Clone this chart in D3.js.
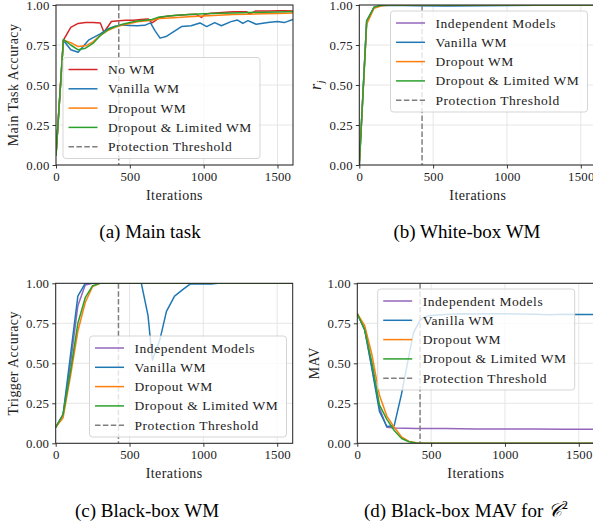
<!DOCTYPE html>
<html>
<head>
<meta charset="utf-8">
<script src="https://cdn.jsdelivr.net/npm/d3@7"></script>
<style>
  body { margin: 0; background: #fff; }
  svg { display: block; }
  svg text { font-family: "Liberation Serif", serif; }
</style>
</head>
<body>
<svg id="svg" width="593" height="522"></svg>
<script>
// ---- data (iteration, value) ----
const xTicks = [0, 500, 1000, 1500];
const xTickLabels = ["0", "500", "1000", "1500"];
const yTicks = [0, 0.25, 0.5, 0.75, 1];
const yTickLabels = ["0.00", "0.25", "0.50", "0.75", "1.00"];
const threshold = 425;

// (a) main task accuracy
const mainNoWM = [[0,0.06],[50,0.78],[100,0.86],[150,0.885],[200,0.89],[250,0.89],[300,0.887],[325,0.83],[375,0.897],[425,0.902],[475,0.905],[525,0.905],[575,0.91],[625,0.912],[650,0.888],[700,0.92],[750,0.93],[800,0.935],[850,0.937],[900,0.94],[950,0.942],[985,0.922],[1010,0.942],[1050,0.948],[1100,0.952],[1150,0.955],[1200,0.958],[1250,0.958],[1290,0.958],[1310,0.944],[1350,0.962],[1400,0.963],[1450,0.963],[1500,0.964],[1550,0.964],[1605,0.963]];
const mainVanilla = [[0,0.06],[50,0.78],[100,0.72],[150,0.705],[220,0.78],[300,0.82],[350,0.85],[400,0.868],[450,0.875],[500,0.872],[550,0.87],[600,0.873],[640,0.888],[670,0.84],[705,0.793],[750,0.805],[800,0.835],[850,0.865],[915,0.87],[975,0.888],[1020,0.865],[1075,0.89],[1120,0.87],[1185,0.896],[1230,0.906],[1265,0.885],[1300,0.902],[1355,0.88],[1435,0.89],[1500,0.897],[1545,0.89],[1605,0.91]];
const mainDropout = [[0,0.06],[50,0.78],[100,0.765],[150,0.74],[200,0.745],[250,0.77],[300,0.81],[350,0.84],[400,0.86],[450,0.875],[500,0.885],[550,0.895],[600,0.9],[650,0.905],[700,0.915],[800,0.92],[900,0.927],[1000,0.932],[1100,0.936],[1200,0.94],[1300,0.942],[1400,0.945],[1500,0.947],[1605,0.95]];
const mainLimited = [[0,0.06],[50,0.785],[100,0.75],[150,0.72],[200,0.73],[250,0.76],[300,0.81],[350,0.845],[400,0.865],[450,0.88],[500,0.89],[550,0.9],[600,0.905],[650,0.91],[700,0.925],[800,0.935],[900,0.94],[1000,0.945],[1100,0.948],[1200,0.95],[1300,0.953],[1400,0.955],[1500,0.957],[1605,0.96]];

// (b) white-box r_j
const rjIndep = [[0,0],[50,0.9],[100,0.985],[150,0.997],[200,1],[1605,1]];
const rjVanilla = [[0,0],[50,0.9],[100,0.985],[150,0.997],[200,0.998],[400,0.995],[600,0.993],[800,0.995],[1000,0.997],[1200,0.998],[1605,0.998]];
const rjDropout = [[0,0],[50,0.88],[100,0.98],[150,0.995],[200,0.999],[1605,0.999]];
const rjLimited = [[0,0],[50,0.9],[100,0.987],[150,0.998],[200,1],[1605,1]];

// (c) trigger accuracy
const trigIndep = [[0,0.1],[50,0.18],[100,0.5],[150,0.86],[200,0.99],[250,1],[1605,1]];
const trigVanilla = [[0,0.1],[50,0.18],[100,0.55],[150,0.92],[200,1],[580,1],[625,0.8],[655,0.52],[705,0.645],[750,0.825],[805,0.92],[860,0.96],[910,0.995],[1050,0.995],[1100,1],[1605,1]];
const trigDropout = [[0,0.1],[50,0.16],[100,0.42],[150,0.7],[200,0.88],[250,0.98],[300,1],[1605,1]];
const trigLimited = [[0,0.1],[50,0.18],[100,0.45],[150,0.75],[200,0.91],[250,0.985],[300,1],[1605,1]];

// (d) MAV
const mavIndep = [[0,0.81],[50,0.71],[100,0.47],[150,0.22],[200,0.1],[250,0.095],[400,0.093],[600,0.092],[800,0.09],[1000,0.09],[1200,0.089],[1400,0.088],[1605,0.087]];
const mavVanilla = [[0,0.81],[50,0.71],[100,0.46],[150,0.2],[200,0.105],[250,0.11],[300,0.31],[350,0.55],[380,0.69],[425,0.77],[470,0.795],[520,0.8],[600,0.805],[700,0.81],[800,0.808],[900,0.81],[1000,0.81],[1100,0.808],[1200,0.806],[1300,0.803],[1400,0.806],[1500,0.805],[1605,0.805]];
const mavDropout = [[0,0.81],[50,0.735],[100,0.55],[150,0.3],[200,0.17],[250,0.1],[300,0.04],[350,0.012],[400,0.003],[450,0],[1605,0]];
const mavLimited = [[0,0.81],[50,0.71],[100,0.5],[150,0.24],[200,0.15],[250,0.08],[300,0.03],[350,0.01],[400,0.002],[450,0],[1605,0]];

const colors = { noWM: "#d62728", indep: "#9467bd", vanilla: "#1f77b4", dropout: "#ff7f0e", limited: "#2ca02c" };

const svg = d3.select("#svg");

function drawPanel(p, idx) {
  const x = d3.scaleLinear().domain([0, 1605]).range([p.left, p.left + 237]);
  const y = d3.scaleLinear().domain([0, 1]).range([p.bottom, p.top]);
  const g = svg.append("g");

  // grid
  g.selectAll(".gx").data(xTicks).join("line")
    .attr("x1", d => x(d)).attr("x2", d => x(d))
    .attr("y1", p.top).attr("y2", p.bottom)
    .attr("stroke", "#e3e3e3").attr("stroke-width", 0.9);
  g.selectAll(".gy").data(yTicks).join("line")
    .attr("y1", d => y(d)).attr("y2", d => y(d))
    .attr("x1", p.left).attr("x2", p.left + 237)
    .attr("stroke", "#e3e3e3").attr("stroke-width", 0.9);

  // clip to the axes box
  svg.append("clipPath").attr("id", "clip" + idx)
    .append("rect").attr("x", p.left).attr("y", p.top)
    .attr("width", 237).attr("height", p.bottom - p.top);

  const linegen = d3.line().x(d => x(d[0])).y(d => y(d[1]));
  const plot = g.append("g").attr("clip-path", `url(#clip${idx})`);
  p.series.forEach(s => {
    plot.append("path")
      .attr("d", linegen(s.data))
      .attr("fill", "none")
      .attr("stroke", s.color)
      .attr("stroke-width", 1.5)
      .attr("stroke-linejoin", "round");
  });

  // protection threshold
  plot.append("line")
    .attr("x1", x(threshold)).attr("x2", x(threshold))
    .attr("y1", p.top).attr("y2", p.bottom)
    .attr("stroke", "#7f7f7f").attr("stroke-width", 1.5)
    .attr("stroke-dasharray", "5.5,2.4");

  // axes
  const bottomAxis = d3.axisBottom(x).tickValues(xTicks).tickSize(3.5).tickPadding(3)
    .tickFormat((d, i) => xTickLabels[i]);
  const leftAxis = d3.axisLeft(y).tickValues(yTicks).tickSize(3.5).tickPadding(3)
    .tickFormat((d, i) => yTickLabels[i]);
  const ax = g.append("g").attr("transform", `translate(0,${p.bottom})`).call(bottomAxis);
  const ay = g.append("g").attr("transform", `translate(${p.left},0)`).call(leftAxis);
  [ax, ay].forEach(a => {
    a.attr("font-family", null).attr("font-size", null);
    a.select(".domain").remove();
    a.selectAll("text").attr("font-size", 12.8).attr("letter-spacing", 0.2).attr("fill", "#222");
    a.selectAll("line").attr("stroke", "#222").attr("stroke-width", 0.9);
  });

  // spines
  g.append("rect")
    .attr("x", p.left).attr("y", p.top)
    .attr("width", 237).attr("height", p.bottom - p.top)
    .attr("fill", "none").attr("stroke", "#222").attr("stroke-width", 1);

  // axis labels
  g.append("text")
    .attr("x", p.left + 118.5).attr("y", p.bottom + 35)
    .attr("text-anchor", "middle").attr("font-size", 14).attr("letter-spacing", 0.4).attr("fill", "#222")
    .text("Iterations");
  const yl = g.append("text")
    .attr("transform", `translate(${p.left - 38},${(p.top + p.bottom) / 2}) rotate(-90)`)
    .attr("text-anchor", "middle").attr("font-size", 14).attr("letter-spacing", 0.4).attr("fill", "#222");
  if (p.ylabel === "rj") {
    yl.append("tspan").attr("font-style", "italic").attr("font-size", 16).text("r");
    yl.append("tspan").attr("font-style", "italic").attr("font-size", 10).attr("dy", 3).text("j");
  } else {
    yl.text(p.ylabel);
  }

  // legend
  const lg = g.append("g");
  const lh = 19.3;
  lg.append("rect")
    .attr("x", p.legend.x).attr("y", p.legend.y)
    .attr("width", p.legend.w).attr("height", 101)
    .attr("rx", 3)
    .attr("fill", "#fff").attr("fill-opacity", 0.8)
    .attr("stroke", "#d0d0d0").attr("stroke-width", 0.9);
  const items = p.series.map(s => ({ label: s.label, color: s.color, dash: null }))
    .concat([{ label: "Protection Threshold", color: "#7f7f7f", dash: "5.5,2.4" }]);
  items.forEach((it, i) => {
    const cy = p.legend.y + 12 + i * lh;
    lg.append("line")
      .attr("x1", p.legend.x + 5.5).attr("x2", p.legend.x + 34.5)
      .attr("y1", cy).attr("y2", cy)
      .attr("stroke", it.color).attr("stroke-width", 1.5)
      .attr("stroke-dasharray", it.dash);
    lg.append("text")
      .attr("x", p.legend.x + 45).attr("y", cy + 4.5)
      .attr("font-size", 13.5).attr("letter-spacing", 0.55).attr("fill", "#222")
      .text(it.label);
  });

  // caption
  g.append("text")
    .attr("x", p.capX).attr("y", p.capY)
    .attr("text-anchor", "middle").attr("font-size", 19).attr("fill", "#000")
    .html(p.caption);
}

const panels = [
  { left: 56, top: 5, bottom: 165, ylabel: "Main Task Accuracy",
    legend: { x: 63, y: 57.5, w: 197 }, capX: 150, capY: 238, caption: "(a) Main task",
    series: [
      { label: "No WM", color: colors.noWM, data: mainNoWM },
      { label: "Vanilla WM", color: colors.vanilla, data: mainVanilla },
      { label: "Dropout WM", color: colors.dropout, data: mainDropout },
      { label: "Dropout & Limited WM", color: colors.limited, data: mainLimited }
    ] },
  { left: 359.3, top: 5, bottom: 165, ylabel: "rj",
    legend: { x: 390.5, y: 11, w: 197 }, capX: 467, capY: 238, caption: "(b) White-box WM",
    series: [
      { label: "Independent Models", color: colors.indep, data: rjIndep },
      { label: "Vanilla WM", color: colors.vanilla, data: rjVanilla },
      { label: "Dropout WM", color: colors.dropout, data: rjDropout },
      { label: "Dropout & Limited WM", color: colors.limited, data: rjLimited }
    ] },
  { left: 55.7, top: 283.3, bottom: 443.3, ylabel: "Trigger Accuracy",
    legend: { x: 89.5, y: 336, w: 197 }, capX: 147, capY: 517, caption: "(c) Black-box WM",
    series: [
      { label: "Independent Models", color: colors.indep, data: trigIndep },
      { label: "Vanilla WM", color: colors.vanilla, data: trigVanilla },
      { label: "Dropout WM", color: colors.dropout, data: trigDropout },
      { label: "Dropout & Limited WM", color: colors.limited, data: trigLimited }
    ] },
  { left: 357.3, top: 283.3, bottom: 443.3, ylabel: "MAV",
    legend: { x: 377.7, y: 289, w: 197 }, capX: 466, capY: 517,
    caption: "(d) Black-box MAV for <tspan font-style='italic'>𝒞</tspan><tspan font-size='12' dy='-8'>2</tspan>",
    series: [
      { label: "Independent Models", color: colors.indep, data: mavIndep },
      { label: "Vanilla WM", color: colors.vanilla, data: mavVanilla },
      { label: "Dropout WM", color: colors.dropout, data: mavDropout },
      { label: "Dropout & Limited WM", color: colors.limited, data: mavLimited }
    ] }
];

panels.forEach(drawPanel);
</script>
</body>
</html>
